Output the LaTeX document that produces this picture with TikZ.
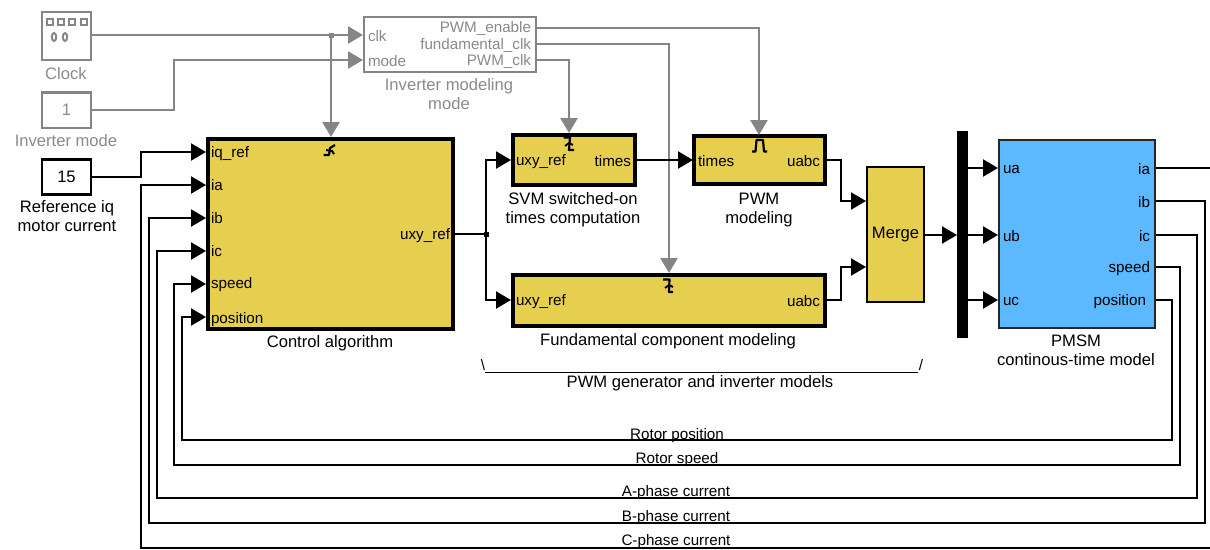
\documentclass[tikz,border=0pt]{standalone}
\usepackage{fontspec}
\setmainfont{Liberation Sans}
\usetikzlibrary{arrows.meta,calc}
\definecolor{gry}{HTML}{858585}
\definecolor{gtxt}{HTML}{8A8A8A}
\definecolor{yel}{HTML}{E6CF4E}
\definecolor{blu}{HTML}{5CB8FF}
\newcommand{\capfont}{\fontsize{16.6}{19}\selectfont}
\tikzset{
  x=1pt,y=-1pt,
  every node/.style={inner sep=0pt,outer sep=0pt,font=\fontsize{15.2}{18}\selectfont,text=black,align=center},
  capt/.style={font=\capfont},
  blk/.style={draw,rectangle,anchor=center},
  heavy/.style={blk,fill=yel,line width=4pt},
  gbox/.style={blk,draw=gry,fill=white,line width=2.5pt},
  gtx/.style={text=gtxt},
  lp/.style={anchor=west},
  rp/.style={anchor=east},
  sig/.style={draw=black,line width=2.2pt,-{Triangle[length=15pt,width=17pt]}},
  wire/.style={draw=black,line width=2.2pt},
  gsig/.style={draw=gry,line width=2.5pt,-{Triangle[length=15pt,width=17pt]}},
  icon/.style={draw=black,line width=2.2pt,line join=round},
}
\begin{document}
\begin{tikzpicture}
\useasboundingbox (0,0) rectangle (1210,549);
% grey blocks
\node[gbox,minimum width=49pt,minimum height=48pt] (clock) at (66.5,36) {};
\node[gbox,minimum width=49pt,minimum height=35.5pt] (mode) at (66.5,110.2) {\capfont\textcolor{gtxt}{1}};
\node[gbox,minimum width=172pt,minimum height=55pt] (inv) at (450,44.5) {};
% black constant
\node[blk,line width=2.5pt,fill=white,minimum width=49pt,minimum height=35pt,capt] (cst) at (66.5,177) {15};
% main blocks
\node[heavy,minimum width=245pt,minimum height=190pt] (ctrl) at (330.5,234) {};
\node[heavy,minimum width=122pt,minimum height=50pt] (svm) at (574,160) {};
\node[heavy,minimum width=130.5pt,minimum height=48pt] (pwm) at (759.7,160) {};
\node[heavy,minimum width=312pt,minimum height=51pt] (fund) at (669,300.5) {};
\node[blk,fill=yel,line width=2.4pt,minimum width=57pt,minimum height=135pt,capt] (merge) at (895.5,234.5) {\raisebox{-2pt}{Merge}};
\node[blk,fill=black,minimum width=10pt,minimum height=206pt] (bus) at (962,234) {};
\node[blk,fill=blu,draw=black!85,line width=2.2pt,minimum width=156pt,minimum height=188pt] (pmsm) at (1077,234) {};

% port coordinates
\foreach \n/\y in {iq/152,ia/185,ib/218,ic/251,sp/284,po/317}{\coordinate (c\n) at (206,\y);}
\coordinate (cout) at (455,234);
\coordinate (jn) at (486,234);
\coordinate (svmin) at (511,160);
\coordinate (svmout) at (636,160);
\coordinate (svmtop) at (569,133);
\coordinate (pwmin) at (693,160);
\coordinate (pwmout) at (826,160);
\coordinate (pwmtop) at (759,135);
\coordinate (fin) at (511,300);
\coordinate (fout) at (827,300);
\coordinate (ftop) at (669,273);
\coordinate (m1) at (866,201);
\coordinate (m2) at (866,267);
\coordinate (mo) at (925,235);
\coordinate (bo) at (957,235);
\coordinate (b1) at (967,168);
\coordinate (b2) at (967,235);
\coordinate (b3) at (967,300);
\coordinate (p1) at (998,168);
\coordinate (p2) at (998,235);
\coordinate (p3) at (998,300);
\coordinate (oa) at (1156,168);
\coordinate (ob) at (1156,201);
\coordinate (oc) at (1156,235);
\coordinate (os) at (1156,267);
\coordinate (op) at (1156,300);
\coordinate (ic1) at (363,35);
\coordinate (ic2) at (363,60);
\coordinate (io1) at (537,28);
\coordinate (io2) at (537,44);
\coordinate (io3) at (537,60);
\coordinate (ctop) at (331,137);
\coordinate (gj) at (331,35);
\coordinate (redge) at (1210,168);
\coordinate (bedge) at (1210,548);

% grey connectors
\draw[gsig] (clock.east |- ic1) -- (ic1);
\draw[gsig] (gj) -- (ctop);
\fill[gry] (328.5,32.5) rectangle (333.5,37.5);
\draw[gsig] (mode.east) -- ++(83,0) |- (ic2);
\draw[gsig] (io1) -| (pwmtop);
\draw[gsig] (io2) -| (ftop);
\draw[gsig] (io3) -| (svmtop);

% black connectors
\draw[sig] (cst.east) -- ++(50,0) |- (ciq);
\draw[wire] (cout) -- (jn);
\fill (483.5,231.5) rectangle (488.5,236.5);
\draw[sig] (jn) |- (svmin);
\draw[sig] (jn) |- (fin);
\draw[sig] (svmout) -- (pwmin);
\draw[sig] (pwmout) -- ++(15,0) |- (m1);
\draw[sig] (fout) -- ++(14,0) |- (m2);
\draw[sig] (mo) -- (bo);
\draw[sig] (b1) -- (p1);
\draw[sig] (b2) -- (p2);
\draw[sig] (b3) -- (p3);
% feedback
\draw[wire] (oa) -- (redge);
\draw[sig] (bedge) -- (141,548) |- (cia);
\draw[sig] (ob) -- ++(49,0) |- (149,523) |- (cib);
\draw[sig] (oc) -- ++(41,0) |- (157,498) |- (cic);
\draw[sig] (os) -- ++(24,0) |- (174,465) |- (csp);
\draw[sig] (op) -- ++(16,0) |- (182,440) |- (cpo);

% port labels
\node[lp] (t1) at (211,153.5) {iq\_ref};
\node[lp] (t2) at (211,185.5) {ia};
\node[lp] (t3) at (211,218.5) {ib};
\node[lp] (t4) at (211,251.5) {ic};
\node[lp] (t5) at (211,285) {speed};
\node[lp] (t6) at (211,320) {position};
\node[rp] (t7) at (450,236) {uxy\_ref};
\node[lp] (t8) at (516,162) {uxy\_ref};
\node[rp] (t9) at (631,161) {times};
\node[lp] (t10) at (698,161) {times};
\node[rp] (t11) at (820,161) {uabc};
\node[lp] (t12) at (516,302) {uxy\_ref};
\node[rp] (t13) at (820,301) {uabc};
\node[lp] (t14) at (1003,169) {ua};
\node[lp] (t15) at (1003,236) {ub};
\node[lp] (t16) at (1003,301) {uc};
\node[rp] (t17) at (1150,169) {ia};
\node[rp] (t18) at (1150,202) {ib};
\node[rp] (t19) at (1150,236) {ic};
\node[rp] (t20) at (1150,269) {speed};
\node[rp] (t21) at (1146,302) {position};
\node[lp,gtx] (t22) at (368,36) {clk};
\node[lp,gtx] (t23) at (368,61) {mode};
\node[rp,gtx] (t24) at (531,29) {PWM\_enable};
\node[rp,gtx] (t25) at (531,46) {fundamental\_clk};
\node[rp,gtx] (t26) at (531,62) {PWM\_clk};

% captions
\node[gtx,capt] (n1) at (66,73.5) {Clock};
\node[gtx,capt] (n2) at (66,141) {Inverter mode};
\node[gtx,capt] (n3) at (449,94) {Inverter modeling\\mode};
\node[capt] (n4) at (67,216) {Reference iq\\motor current};
\node[capt] (n5) at (330,343.5) {Control algorithm};
\node[capt] (n6) at (573,210) {SVM switched-on\\times computation};
\node[capt] (n7) at (759,210) {PWM\\modeling};
\node[capt] (n8) at (668,341) {Fundamental component modeling};
\node[capt] (n9) at (1076,350) {PMSM\\continous-time model};
\node[capt] (n10) at (700,383.5) {PWM generator and inverter models};
\node (n11) at (677,436) {Rotor position};
\node (n12) at (677,460) {Rotor speed};
\node (n13) at (676,492.5) {A-phase current};
\node (n14) at (676,517.5) {B-phase current};
\node (n15) at (676,541.5) {C-phase current};

% bracket annotation
\node (n16) at (483,365) {\textbackslash};
\node (n17) at (921,365) {/};
\draw[line width=1pt] (485,372) -- (918,372);

% clock icon
\foreach \x in {46.5,57.5,69,80.5}{\draw[gry,line width=2pt] (\x,18.5) rectangle ++(6,6.5);}
\draw[gry,line width=2pt] (54,37) ellipse (2.2pt and 4pt);
\draw[gry,line width=2pt] (65,37) ellipse (2.2pt and 4pt);

% function-call icon
\draw[icon] (323.5,155) -- (329,155) -- (330,148) -- (335,145);
\draw[icon,line width=2pt] (326,150) -- (332,151) -- (334,154);
% trigger icons
\draw[icon] (563.5,137.5) -- (570,137.5) -- (569,150) -- (574,150);
\draw[icon,line width=1.8pt] (565,146) -- (569,143) -- (573,145);
\draw[icon] (663,279.5) -- (669.5,279.5) -- (669,292) -- (673,292);
\draw[icon,line width=1.8pt] (665,288) -- (669,285) -- (673,287);
% pulse icon
\draw[icon] (752,151.5) -- (755.5,151.5) -- (756.5,140) -- (763,140) -- (764,151.5) -- (767,151.5);
\end{tikzpicture}
\end{document}
